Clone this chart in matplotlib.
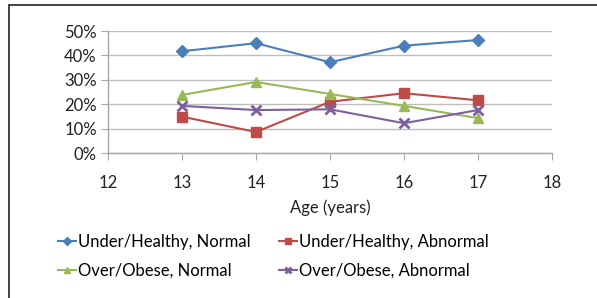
import matplotlib
matplotlib.use("Agg")
import matplotlib.pyplot as plt
from matplotlib.lines import Line2D
from matplotlib.patches import Rectangle

ages = [13, 14, 15, 16, 17]
under_normal = [41.7, 45.0, 37.2, 44.0, 46.3]
under_abnormal = [14.9, 8.6, 21.0, 24.5, 21.6]
over_normal = [23.8, 29.1, 24.2, 19.3, 14.3]
over_abnormal = [19.3, 17.6, 17.9, 12.2, 17.6]
labels = ["Under/Healthy, Normal", "Under/Healthy, Abnormal",
          "Over/Obese, Normal", "Over/Obese, Abnormal"]
xticks = [12, 13, 14, 15, 16, 17, 18]
yticks = [0, 10, 20, 30, 40, 50]

plt.rcParams['font.family'] = ['Lato', 'DejaVu Sans']

fig = plt.figure(figsize=(5.97, 2.98), dpi=100)
ax = fig.add_axes([108/597, 1-153/298, (552-108)/597, (153-31)/298])

colors = ['#4A7EBB', '#BE4B48', '#98B954', '#7D60A0']
markers = ['D', 's', '^', 'x']
msizes = [6, 7, 7, 7]
series = [under_normal, under_abnormal, over_normal, over_abnormal]
handles = []
for s, c, m, ms, lab in zip(series, colors, markers, msizes, labels):
    kw = dict(markeredgewidth=2) if m == 'x' else dict(markeredgecolor=c)
    ax.plot(ages, s, color=c, marker=m, markersize=ms, linewidth=1.5, zorder=3, **kw)
    handles.append(Line2D([], [], color=c, marker=m, markersize=ms*0.7, linewidth=1.5,
                          label=lab, **kw))

ax.set_xlim(12, 18)
ax.set_ylim(0, 50)
ax.set_xticks(xticks)
ax.set_xticklabels([str(t) for t in xticks])
ax.set_yticks(yticks)
ax.set_yticklabels([f"{t}%" for t in yticks])
ax.yaxis.grid(True, color='#BEBEBE', linewidth=1)
ax.set_axisbelow(True)
for side in ['top', 'right']:
    ax.spines[side].set_visible(False)
for side in ['left', 'bottom']:
    ax.spines[side].set_color('#A6A6A6')
    ax.spines[side].set_linewidth(1)
ax.tick_params(axis='both', colors='#A6A6A6', length=5, labelsize=12, labelcolor='#222222')
ax.tick_params(axis='x', pad=11)
ax.tick_params(axis='y', pad=3)
ax.set_xlabel("Age (years)", fontsize=12, color='#222222', labelpad=6)

order = [0, 2, 1, 3]
fig.legend(handles=[handles[i] for i in order], loc='upper left',
           bbox_to_anchor=(58/597, 1-234/298),
           ncol=2, frameon=False, fontsize=12, handlelength=1.1, handletextpad=0.1,
           columnspacing=1.7, labelspacing=0.75, borderaxespad=0, borderpad=0)

fig.patches.append(Rectangle((9/597, -0.1), 2.0, 1.1 - 5/298, transform=fig.transFigure,
                             fill=False, edgecolor='#222222', linewidth=1.2))

fig.savefig("out.png", dpi=100)
